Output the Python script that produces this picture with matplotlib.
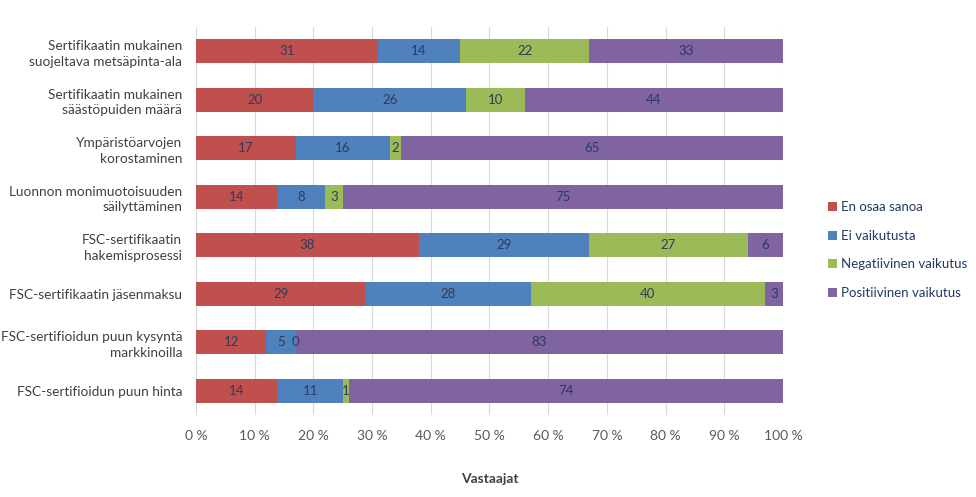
import matplotlib.pyplot as plt
import numpy as np

plt.rcParams['font.family'] = ['Lato', 'DejaVu Sans']

# Categories, top to bottom
categories = [
    "Sertifikaatin mukainen\nsuojeltava metsäpinta-ala",
    "Sertifikaatin mukainen\nsäästöpuiden määrä",
    "Ympäristöarvojen\nkorostaminen",
    "Luonnon monimuotoisuuden\nsäilyttäminen",
    "FSC-sertifikaatin\nhakemisprosessi",
    "FSC-sertifikaatin jäsenmaksu",
    "FSC-sertifioidun puun kysyntä\nmarkkinoilla",
    "FSC-sertifioidun puun hinta",
]

series_names = ["En osaa sanoa", "Ei vaikutusta", "Negatiivinen vaikutus", "Positiivinen vaikutus"]
en_osaa = [31, 20, 17, 14, 38, 29, 12, 14]
ei_vaik = [14, 26, 16, 8, 29, 28, 5, 11]
negat = [22, 10, 2, 3, 27, 40, 0, 1]
posit = [33, 44, 65, 75, 6, 3, 83, 74]

colors = ["#C0504D", "#4F81BD", "#9BBB59", "#8064A2"]
x_ticks = np.arange(0, 101, 10)
x_labels = ["%d %%" % v for v in x_ticks]

fig = plt.figure(figsize=(9.76, 4.97), dpi=100)
ax = fig.add_axes([196 / 976, 1 - 415 / 497, (783 - 196) / 976, (415 - 27) / 497])

y = np.arange(len(categories))
left = np.zeros(len(categories))
for name, vals, c in zip(series_names, [en_osaa, ei_vaik, negat, posit], colors):
    bars = ax.barh(y, vals, left=left, height=0.5, color=c, label=name, zorder=2)
    ax.bar_label(bars, labels=[str(v) for v in vals], label_type='center',
                 color="#2E3B5A", fontsize=9.5)
    left += np.array(vals)

ax.set_ylim(7.5, -0.5)
ax.set_xlim(0, 100)
ax.set_yticks(y)
ax.set_yticklabels(categories, fontsize=9.8, color="#404040", linespacing=1.35)
ax.set_xticks(x_ticks)
ax.set_xticklabels(x_labels, fontsize=10, color="#595959")
ax.tick_params(axis='y', length=0, pad=10)
ax.tick_params(axis='x', length=0, pad=11)
ax.grid(axis='x', color="#D9D9D9", linewidth=0.8, zorder=0)
for s in ax.spines.values():
    s.set_visible(False)
ax.set_xlabel("Vastaajat", fontsize=10, fontweight='bold', color="#404040", labelpad=22)

leg = ax.legend(loc='center left', bbox_to_anchor=(816 / 976, 1 - 250 / 497),
                bbox_transform=fig.transFigure, frameon=False, fontsize=9.5,
                handlelength=0.7, handleheight=0.7, handletextpad=0.3,
                labelspacing=1.25)
for t in leg.get_texts():
    t.set_color("#1F3A60")

fig.savefig("out.png", dpi=100)
